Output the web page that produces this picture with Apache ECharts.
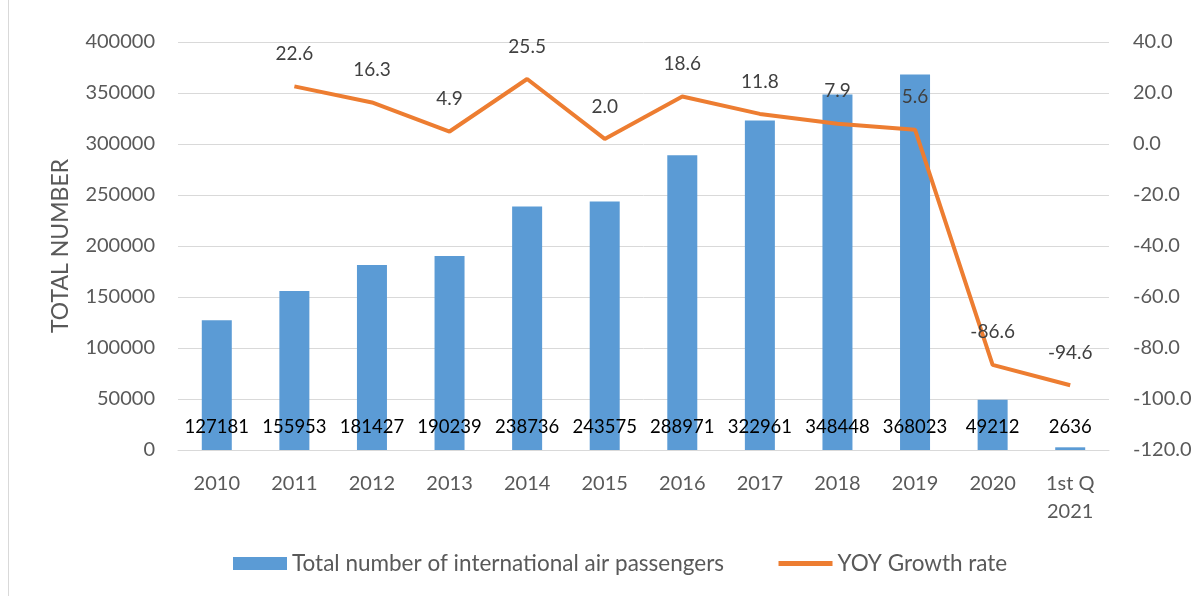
<!DOCTYPE html>
<html>
<head>
<meta charset="utf-8">
<script src="https://cdn.jsdelivr.net/npm/echarts@6/dist/echarts.min.js"></script>
<style>
  html, body { margin: 0; padding: 0; background: #fff; }
  #chart { width: 1198px; height: 596px; }
</style>
</head>
<body>
<div id="chart"></div>
<script>
// data
const categories = ["2010", "2011", "2012", "2013", "2014", "2015", "2016", "2017", "2018", "2019", "2020", "1st Q\n2021"];
const passengers = [127181, 155953, 181427, 190239, 238736, 243575, 288971, 322961, 348448, 368023, 49212, 2636];
const growthRate = [null, 22.6, 16.3, 4.9, 25.5, 2.0, 18.6, 11.8, 7.9, 5.6, -86.6, -94.6];

const font = "Lato, 'Open Sans', sans-serif";
const chart = echarts.init(document.getElementById("chart"));

chart.setOption({
  animation: false,
  textStyle: { fontFamily: font },
  graphic: [
    {
      type: "line",
      shape: { x1: 8.5, y1: 0, x2: 8.5, y2: 596 },
      style: { stroke: "#d9d9d9", lineWidth: 1 },
    },
  ],
  grid: {
    left: 178,
    right: 89,
    top: 42,
    bottom: 146,
  },
  legend: {
    top: 547,
    left: 228,
    itemGap: 52,
    itemWidth: 54,
    itemHeight: 13,
    textStyle: { color: "#595959", fontSize: 22.5, fontFamily: font },
    data: [
      { name: "Total number of international air passengers", icon: "rect" },
      { name: "YOY Growth rate", itemStyle: { opacity: 0 }, lineStyle: { width: 5 } },
    ],
  },
  xAxis: {
    type: "category",
    data: categories,
    axisLine: { lineStyle: { color: "#d9d9d9", width: 1 } },
    axisTick: { show: false },
    axisLabel: { color: "#595959", fontSize: 20, margin: 20, lineHeight: 28 },
  },
  yAxis: [
    {
      type: "value",
      min: 0,
      max: 400000,
      interval: 50000,
      name: "TOTAL NUMBER",
      nameLocation: "middle",
      nameRotate: 90,
      nameGap: 106,
      nameTextStyle: { color: "#595959", fontSize: 23 },
      axisLine: { show: false },
      axisTick: { show: false },
      axisLabel: { color: "#595959", fontSize: 20, margin: 23, formatter: (v) => String(v) },
      splitLine: { lineStyle: { color: "#d9d9d9", width: 1 } },
    },
    {
      type: "value",
      min: -120,
      max: 40,
      interval: 20,
      axisLine: { show: false },
      axisTick: { show: false },
      axisLabel: {
        color: "#595959",
        fontSize: 20,
        margin: 24,
        formatter: (v) => v.toFixed(1),
      },
      splitLine: { show: false },
    },
  ],
  series: [
    {
      name: "Total number of international air passengers",
      type: "bar",
      data: passengers,
      barWidth: 30,
      itemStyle: { color: "#5b9bd5" },
      label: {
        show: true,
        position: "insideBottom",
        distance: 13,
        color: "#000",
        fontSize: 18.5,
      },
    },
    {
      name: "YOY Growth rate",
      type: "line",
      yAxisIndex: 1,
      data: growthRate,
      symbol: "circle",
      symbolSize: 0,
      lineStyle: { color: "#ed7d31", width: 4 },
      itemStyle: { color: "#ed7d31" },
      label: {
        show: true,
        position: "top",
        distance: 23,
        color: "#404040",
        fontSize: 19,
        formatter: (p) => p.value.toFixed(1),
      },
    },
  ],
});
</script>
</body>
</html>
